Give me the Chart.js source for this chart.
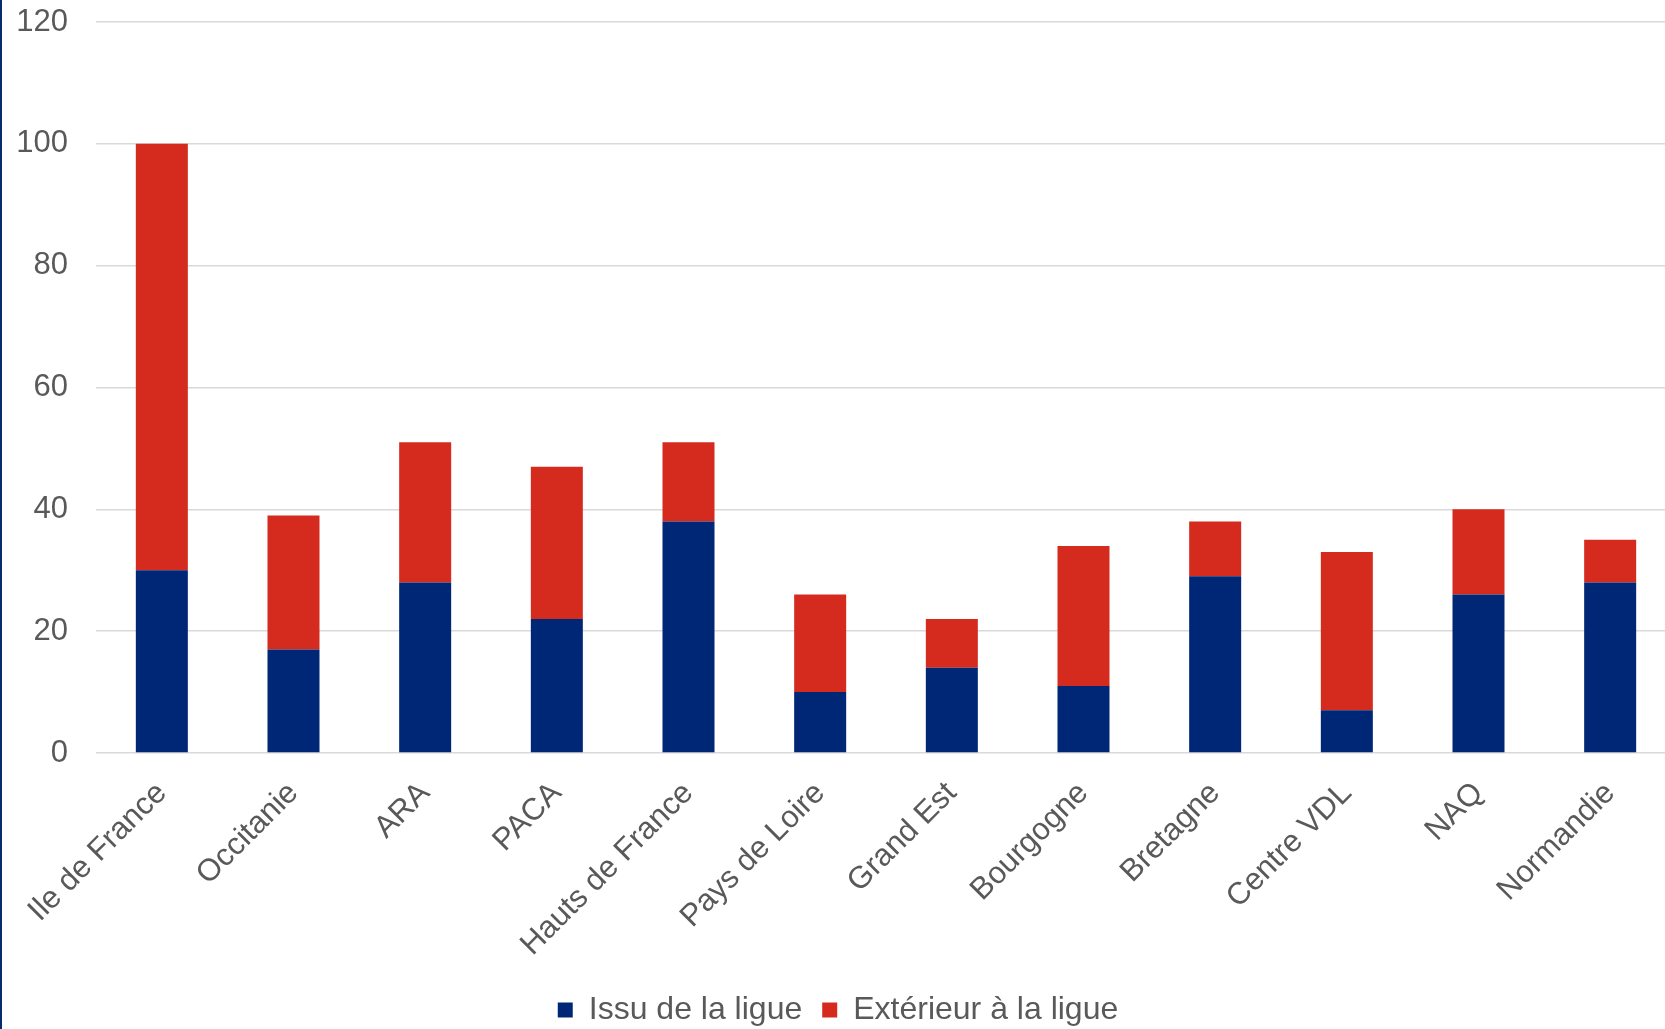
<!DOCTYPE html>
<html>
<head>
<meta charset="utf-8">
<script src="https://cdn.jsdelivr.net/npm/chart.js@4/dist/chart.umd.min.js"></script>
<style>
  html, body { margin: 0; padding: 0; background: #fff; overflow: hidden; }
  body { width: 1665px; height: 1029px; position: relative; }
  #leftline { position: absolute; left: 0; top: 0; width: 2px; height: 1029px; background: #0a2a6e; z-index: 2; }
  #wrap { position: absolute; left: 0; top: 0; width: 1680px; height: 1029px; }
</style>
</head>
<body>
<div id="leftline"></div>
<div id="wrap"><canvas id="c"></canvas></div>
<script>
const categories = ["Ile de France", "Occitanie", "ARA", "PACA", "Hauts de France", "Pays de Loire", "Grand Est", "Bourgogne", "Bretagne", "Centre VDL", "NAQ", "Normandie"];
const issuDeLaLigue = [30, 17, 28, 22, 38, 10, 14, 11, 29, 7, 26, 28];
const exterieurALaLigue = [70, 22, 23, 25, 13, 16, 8, 23, 9, 26, 14, 7];
const seriesNames = ["Issu de la ligue", "Extérieur à la ligue"];
const seriesColors = ["#002776", "#D52B1E"];

const FONT = "'Liberation Sans', Arial, sans-serif";
const TXT = "#595959";

new Chart(document.getElementById('c'), {
  type: 'bar',
  data: {
    labels: categories,
    datasets: [
      { label: seriesNames[0], data: issuDeLaLigue, backgroundColor: seriesColors[0], borderWidth: 0 },
      { label: seriesNames[1], data: exterieurALaLigue, backgroundColor: seriesColors[1], borderWidth: 0 }
    ]
  },
  options: {
    responsive: true,
    maintainAspectRatio: false,
    animation: false,
    datasets: { bar: { categoryPercentage: 1.0, barPercentage: 0.395 } },
    layout: { padding: { top: 0, right: 4, bottom: -7, left: 0 } },
    plugins: {
      tooltip: { enabled: false },
      legend: {
        position: 'bottom',
        labels: {
          font: { family: FONT, size: 32 },
          color: TXT,
          boxWidth: 15,
          boxHeight: 15,
          padding: 20
        }
      }
    },
    scales: {
      x: {
        stacked: true,
        grid: { display: false },
        border: { display: false },
        ticks: {
          font: { family: FONT, size: 31 },
          color: TXT,
          minRotation: 45,
          maxRotation: 45,
          autoSkip: false,
          padding: 14
        },
        afterFit: (s) => { s.height = 221; s.paddingLeft = 0; s.paddingRight = 0; }
      },
      y: {
        stacked: true,
        min: 0,
        max: 120,
        border: { display: false },
        grid: { color: '#d9d9d9', lineWidth: 1.5, drawTicks: false },
        ticks: {
          stepSize: 20,
          font: { family: FONT, size: 31 },
          color: TXT,
          padding: 28
        },
        afterFit: (s) => { s.width = 96; s.paddingTop = 22; s.paddingBottom = 0; }
      }
    }
  }
});
</script>
</body>
</html>
